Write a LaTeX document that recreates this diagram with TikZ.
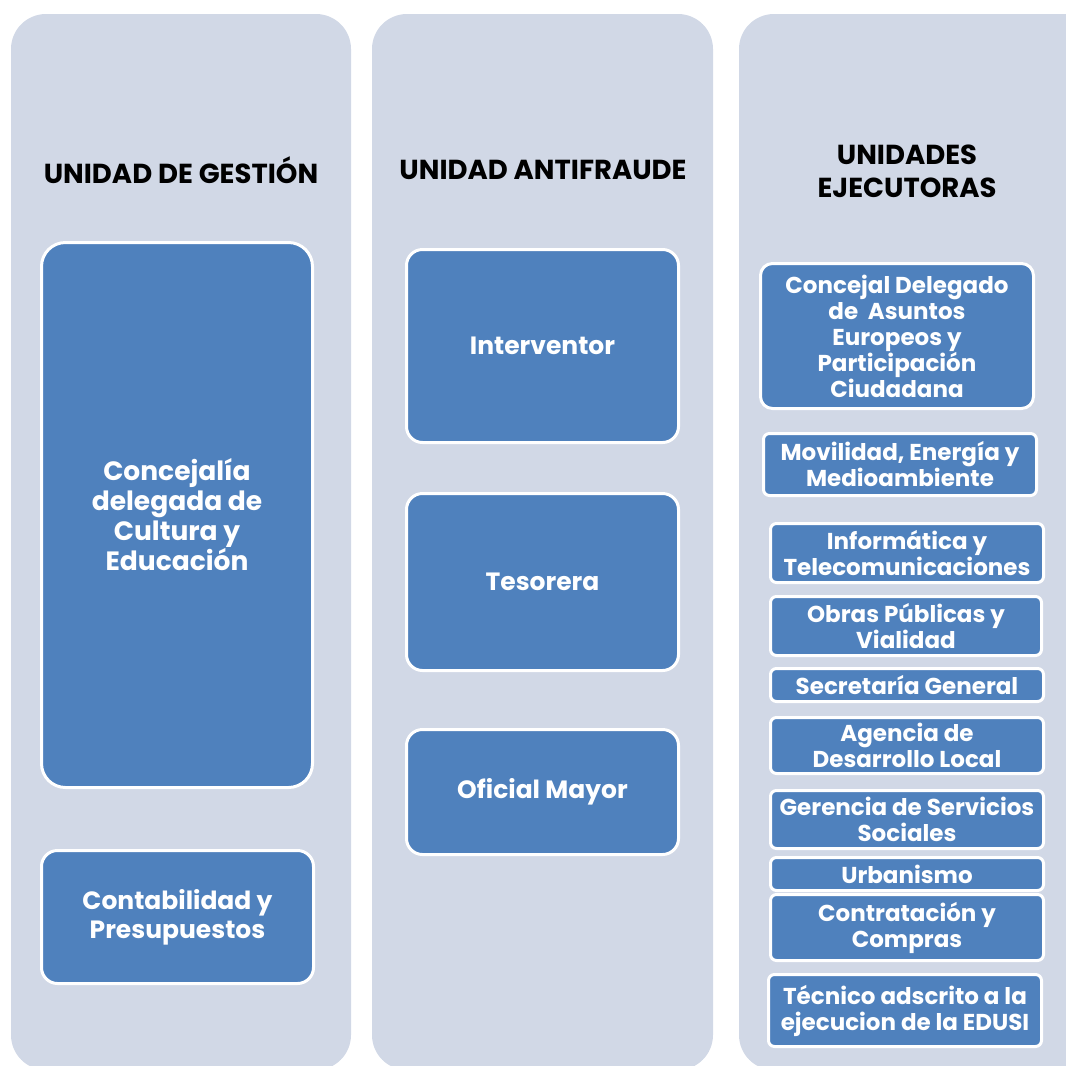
\documentclass[tikz,border=0pt]{standalone}
\usepackage{fontspec}
\setmainfont{Poppins}
\usetikzlibrary{positioning}
\usepackage{xcolor}
\definecolor{panelgray}{HTML}{D1D8E6}
\definecolor{boxblue}{HTML}{4F81BD}

\begin{document}
\begin{tikzpicture}[x=1pt, y=-1pt,
        panel/.style={rectangle, rounded corners=35pt, fill=panelgray, inner sep=0pt},
        head/.style={font=\bfseries\fontsize{27.5}{33}\selectfont, text=black, align=center},
        unode/.style={rectangle, draw=white, line width=3pt, fill=boxblue, text=white,
            align=center, inner sep=0pt, rounded corners=6pt,
            font=\bfseries\fontsize{23}{26}\selectfont},
        bignode/.style={unode, rounded corners=24pt, font=\bfseries\fontsize{26.5}{30}\selectfont},
        midnode/.style={unode, rounded corners=16pt, font=\bfseries\fontsize{25}{29}\selectfont},
        size/.style 2 args={minimum width=#1pt, minimum height=#2pt}
    ]
    \useasboundingbox (0,0) rectangle (1066,1066);
    \clip (0,0) rectangle (1066,1066);

    % columnas
    \node[panel, size={340}{1056}] (P1) at (181,542) {};
    \node[panel, size={341}{1056}] (P2) at (542.5,542) {};
    \node[panel, size={361}{1056}] (P3) at (919.5,542) {};

    \node[head] (H1) at (181,170) {UNIDAD DE GESTIÓN};
    \node[head] (H2) at (543,170) {UNIDAD ANTIFRAUDE};
    \node[head] (H3) at (907,171) {UNIDADES\\EJECUTORAS};

    % unidad de gestion
    \node[bignode, size={271}{545}] (cult) at (177,515) {Concejalía\\delegada de\\Cultura y\\Educación};
    \node[midnode, size={272}{133}] (cont) at (177.5,917) {Contabilidad y\\Presupuestos};

    % unidad antifraude
    \node[midnode, size={272}{193}] (interv) at (542.5,346) {Interventor};
    \node[midnode, size={272}{177}] (tesor) at (542.5,582) {Tesorera};
    \node[midnode, size={272}{125}] (ofic) at (542.5,792) {Oficial Mayor};

    % unidades ejecutoras
    \node[unode, rounded corners=12pt, size={273}{145}] (conc) at (897,336)
        {Concejal Delegado\\de\ \ Asuntos\\Europeos y\\Participación\\Ciudadana};
    \node[unode, size={273}{62}] (movil) at (900,464.5) {Movilidad, Energía y\\Medioambiente};
    \node[unode, size={273}{59}] (inform) at (907,553) {Informática y\\Telecomunicaciones};
    \node[unode, size={271}{59}] (obras) at (906,626) {Obras Públicas y\\Vialidad};
    \node[unode, size={273}{33}] (secr) at (907,685) {Secretaría General};
    \node[unode, size={273}{56}] (agen) at (907,745.5) {Agencia de\\Desarrollo Local};
    \node[unode, size={273}{58}] (geren) at (907,819.5) {Gerencia de Servicios\\Sociales};
    \node[unode, size={273}{33}] (urban) at (907,874) {Urbanismo};
    \node[unode, size={273}{66}] (contr) at (907,927.5) {Contratación y\\Compras};
    \node[unode, size={273}{72}] (tecn) at (905,1010.5) {Técnico adscrito a la\\ejecucion de la EDUSI};
\end{tikzpicture}
\end{document}
